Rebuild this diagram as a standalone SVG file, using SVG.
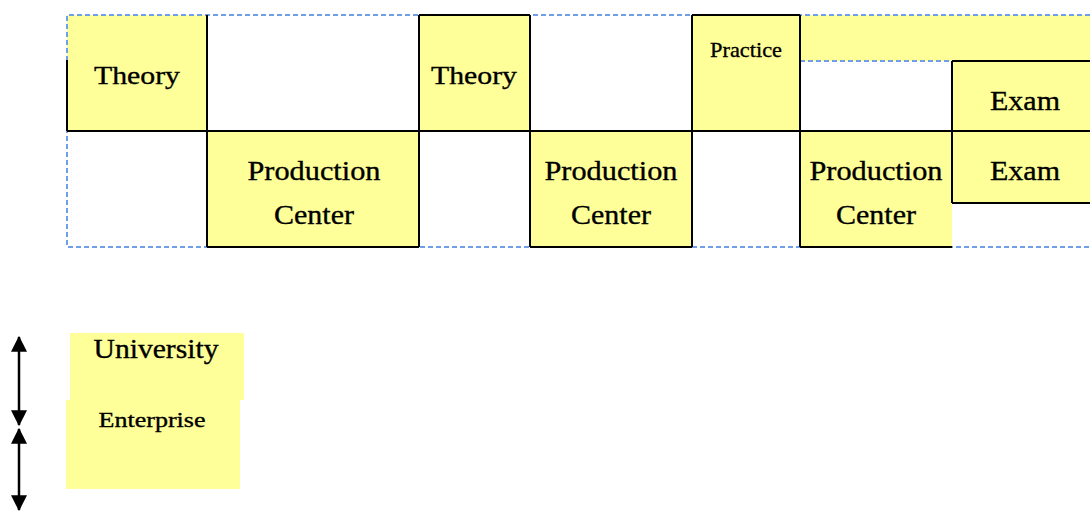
<svg xmlns="http://www.w3.org/2000/svg" width="1090" height="512" viewBox="0 0 1090 512">
<style>
.cell{fill:#FFFF99;stroke:none}
.t{font-family:"Liberation Serif","Times New Roman",serif;fill:#000;stroke:#000;stroke-width:0.35;text-anchor:middle}
.b{fill:none;stroke:#000;stroke-width:2}
.d{fill:none;stroke:#6F9FE6;stroke-width:2;stroke-dasharray:5 3}
.a{fill:none;stroke:#000;stroke-width:2.5}
</style>
<defs>
<marker id="ah" markerUnits="userSpaceOnUse" markerWidth="16" markerHeight="16" refX="13" refY="7" orient="auto-start-reverse" viewBox="0 0 14 14">
<path d="M0 0 L14 7 L0 14 Z" fill="#000"/>
</marker>
</defs>
<rect x="0" y="0" width="1090" height="512" fill="#fff"/>

<g id="theory1"><rect class="cell" x="67" y="15" width="140" height="116"/><text class="t" x="137" y="84" font-size="26" textLength="86" lengthAdjust="spacingAndGlyphs">Theory</text></g>
<g id="production1"><rect class="cell" x="207" y="131" width="212" height="116"/><text class="t" x="314" y="180" font-size="27" textLength="133" lengthAdjust="spacingAndGlyphs">Production</text><text class="t" x="314" y="224" font-size="27" textLength="80" lengthAdjust="spacingAndGlyphs">Center</text></g>
<g id="theory2"><rect class="cell" x="419" y="15" width="111" height="116"/><text class="t" x="474" y="84" font-size="26" textLength="86" lengthAdjust="spacingAndGlyphs">Theory</text></g>
<g id="production2"><rect class="cell" x="530" y="131" width="162" height="116"/><text class="t" x="611" y="180" font-size="27" textLength="133" lengthAdjust="spacingAndGlyphs">Production</text><text class="t" x="611" y="224" font-size="27" textLength="80" lengthAdjust="spacingAndGlyphs">Center</text></g>
<g id="practice"><rect class="cell" x="692" y="15" width="108" height="116"/><text class="t" x="746" y="57" font-size="22" textLength="72" lengthAdjust="spacingAndGlyphs">Practice</text></g>
<g id="band"><rect class="cell" x="800" y="15" width="290" height="46"/></g>
<g id="exam1"><rect class="cell" x="952" y="61" width="138" height="70"/><text class="t" x="1025" y="110" font-size="27" textLength="70" lengthAdjust="spacingAndGlyphs">Exam</text></g>
<g id="production3"><rect class="cell" x="800" y="131" width="152" height="116"/><text class="t" x="876" y="180" font-size="27" textLength="133" lengthAdjust="spacingAndGlyphs">Production</text><text class="t" x="876" y="224" font-size="27" textLength="80" lengthAdjust="spacingAndGlyphs">Center</text></g>
<g id="exam2"><rect class="cell" x="952" y="131" width="138" height="72"/><text class="t" x="1025" y="180" font-size="27" textLength="70" lengthAdjust="spacingAndGlyphs">Exam</text></g>

<g id="frame">
<path class="d" d="M1090 15 H67 V247 H1090"/>
<path class="d" d="M800 61 H952"/>
<path class="b" d="M67 131 H1090 M67 60 V131 M207 15 V247 M207 247 H419 M419 15 V247 M419 15 H530 M530 15 V247 M530 247 H692 M692 15 V247 M692 15 H800 M800 15 V247 M800 247 H952 M952 61 V203 M952 61 H1090 M952 203 H1090"/>
</g>

<g id="university"><rect class="cell" x="70" y="333" width="174" height="67"/><text class="t" x="156" y="358" font-size="27" textLength="125" lengthAdjust="spacingAndGlyphs">University</text></g>
<g id="enterprise"><rect class="cell" x="66" y="400" width="174" height="89"/><text class="t" x="152" y="427" font-size="22" textLength="107" lengthAdjust="spacingAndGlyphs">Enterprise</text></g>

<g id="connectors">
<line class="a" x1="19" y1="337" x2="19" y2="425" marker-start="url(#ah)" marker-end="url(#ah)"/>
<line class="a" x1="19" y1="429" x2="19" y2="510" marker-start="url(#ah)" marker-end="url(#ah)"/>
</g>
</svg>
